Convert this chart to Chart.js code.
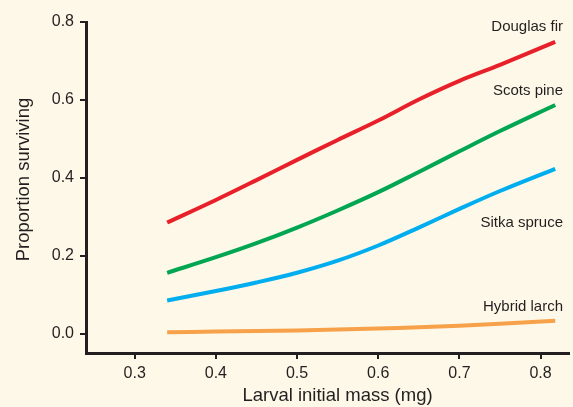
<!DOCTYPE html>
<html>
<head>
<meta charset="utf-8">
<script src="https://cdn.jsdelivr.net/npm/chart.js@4/dist/chart.umd.min.js"></script>
<style>
  html, body { margin: 0; padding: 0; background: #fdf8e8; }
  #wrap { width: 573px; height: 407px; }
</style>
</head>
<body>
<div id="wrap"><canvas id="chart" width="573" height="407"></canvas></div>
<script>
// --- Data ---
const massValues = [0.34, 0.4, 0.45, 0.5, 0.55, 0.6, 0.65, 0.7, 0.75, 0.818];
const douglasFir = [0.285, 0.343, 0.394, 0.446, 0.497, 0.547, 0.601, 0.649, 0.69, 0.749];
const scotsPine = [0.156, 0.196, 0.232, 0.272, 0.316, 0.363, 0.415, 0.468, 0.52, 0.587];
const sitkaSpruce = [0.085, 0.109, 0.131, 0.156, 0.187, 0.226, 0.272, 0.32, 0.366, 0.423];
const hybridLarch = [0.003, 0.005, 0.0065, 0.008, 0.0105, 0.013, 0.016, 0.02, 0.025, 0.033];
const seriesNames = ['Douglas fir', 'Scots pine', 'Sitka spruce', 'Hybrid larch'];
const xTicks = [0.3, 0.4, 0.5, 0.6, 0.7, 0.8];
const yTicks = [0.0, 0.2, 0.4, 0.6, 0.8];
const xTitle = 'Larval initial mass (mg)';
const yTitle = 'Proportion surviving';

const ink = '#231f20';
const colors = ['#e8202a', '#00a651', '#00aeef', '#f7a14a'];
const font = "'Liberation Sans', Arial, sans-serif";

function toPoints(values) {
    return massValues.map((m, i) => ({ x: m, y: values[i] }));
}

// label baseline: vertical shift (px) from the line's last point
const labelShift = [-11, -10, 58, -10];

// --- Labels and axis titles drawn by hand ---
const annotate = {
    id: 'annotate',
    afterDraw(chart) {
        const ctx = chart.ctx;
        const ys = chart.scales.y;
        const area = chart.chartArea;
        ctx.save();
        ctx.fillStyle = ink;

        // series names at the right end of each line
        ctx.font = '15px ' + font;
        ctx.textAlign = 'right';
        ctx.textBaseline = 'alphabetic';
        chart.data.datasets.forEach((ds, i) => {
            const last = ds.data[ds.data.length - 1];
            ctx.fillText(ds.label, area.right - 6, ys.getPixelForValue(last.y) + labelShift[i]);
        });

        // axis titles
        ctx.font = '18.5px ' + font;
        ctx.textAlign = 'center';
        ctx.textBaseline = 'middle';
        ctx.fillText(xTitle, (area.left + area.right) / 2 + 10, 396);
        ctx.translate(24, (area.top + area.bottom) / 2 - 8);
        ctx.rotate(-Math.PI / 2);
        ctx.fillText(yTitle, 0, 0);
        ctx.restore();
    }
};

new Chart(document.getElementById('chart'), {
    type: 'line',
    data: {
        datasets: [douglasFir, scotsPine, sitkaSpruce, hybridLarch].map((vals, i) => ({
            label: seriesNames[i],
            data: toPoints(vals),
            borderColor: colors[i],
            borderWidth: 4,
            pointRadius: 0,
            tension: 0.35,
            fill: false
        }))
    },
    options: {
        responsive: false,
        animation: false,
        layout: { padding: { top: 22, right: 4, left: 0, bottom: 0 } },
        plugins: {
            legend: { display: false },
            tooltip: { enabled: false }
        },
        scales: {
            x: {
                type: 'linear',
                min: 0.24,
                max: 0.835,
                afterBuildTicks: s => { s.ticks = xTicks.map(v => ({ value: v })); },
                afterFit: s => { s.height = 54; },
                ticks: {
                    color: ink,
                    font: { family: font, size: 16 },
                    padding: 5,
                    maxRotation: 0,
                    callback: v => v.toFixed(1)
                },
                grid: { drawOnChartArea: false, drawTicks: true, tickLength: 6, color: ink, lineWidth: 2 },
                border: { display: true, color: ink, width: 3 }
            },
            y: {
                min: -0.05,
                max: 0.8,
                afterBuildTicks: s => { s.ticks = yTicks.map(v => ({ value: v })); },
                afterFit: s => { s.width = 86; },
                ticks: {
                    color: ink,
                    font: { family: font, size: 16 },
                    padding: 6,
                    callback: v => v.toFixed(1)
                },
                grid: { drawOnChartArea: false, drawTicks: true, tickLength: 6, color: ink, lineWidth: 2 },
                border: { display: true, color: ink, width: 3 }
            }
        }
    },
    plugins: [annotate]
});
</script>
</body>
</html>
